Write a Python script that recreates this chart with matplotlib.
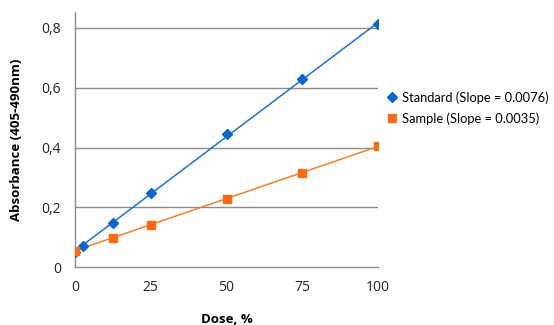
import numpy as np
import matplotlib.pyplot as plt
from matplotlib.ticker import FuncFormatter

# values
std_dose = [0, 2.5, 12.5, 25, 50, 75, 100]
std_abs = [0.05, 0.072, 0.147, 0.249, 0.445, 0.628, 0.812]
smp_dose = [0, 12.5, 25, 50, 75, 100]
smp_abs = [0.055, 0.099, 0.142, 0.229, 0.316, 0.404]
std_label = 'Standard (Slope = 0.0076)'
smp_label = 'Sample (Slope = 0.0035)'
x_ticks = [0, 25, 50, 75, 100]
y_ticks = [0, 0.2, 0.4, 0.6, 0.8]

plt.rcParams['font.family'] = ['Open Sans', 'DejaVu Sans']

fig = plt.figure(figsize=(5.54, 3.25), dpi=100)
ax = fig.add_axes([0.1354, 0.178, 0.547, 0.785])

blue = '#0A66CC'
orange = '#FF6A10'

# trendlines from a linear fit of each series
for xs, ys, col in [(std_dose, std_abs, '#1A74D6'), (smp_dose, smp_abs, '#F5802A')]:
    k, b = np.polyfit(xs, ys, 1)
    xx = np.array([0, 100])
    ax.plot(xx, k * xx + b, color=col, lw=1.1, zorder=2)

ax.plot(std_dose, std_abs, linestyle='none', marker='D', ms=5.5, color=blue,
        label=std_label, zorder=3)
ax.plot(smp_dose, smp_abs, linestyle='none', marker='s', ms=6, color=orange,
        label=smp_label, zorder=4)

ax.set_xlim(0, 100)
ax.set_ylim(0, 0.853)
ax.set_xticks(x_ticks)
ax.set_yticks(y_ticks)
ax.yaxis.set_major_formatter(FuncFormatter(lambda v, p: '0' if v == 0 else f'{v:.1f}'.replace('.', ',')))
ax.tick_params(length=0, labelsize=10, colors='#222222', pad=9)
ax.tick_params(axis='y', pad=10)

for y in y_ticks[1:]:
    ax.axhline(y, color='#8C8C8C', lw=1, zorder=1)
for s in ['top', 'right']:
    ax.spines[s].set_visible(False)
for s in ['left', 'bottom']:
    ax.spines[s].set_color('#8C8C8C')
    ax.spines[s].set_linewidth(1)

ax.set_xlabel('Dose, %', fontweight='bold', fontsize=9.5, labelpad=13)
ax.set_ylabel('Absorbance (405-490nm)', fontweight='bold', fontsize=9.5, labelpad=13)

ax.legend(loc='upper left', bbox_to_anchor=(0.99, 0.735), frameon=False,
          handlelength=0.8, handletextpad=0.4, labelspacing=0.65,
          prop={'family': ['Lato', 'Open Sans'], 'size': 9.3})

fig.savefig('out.png', dpi=100)
